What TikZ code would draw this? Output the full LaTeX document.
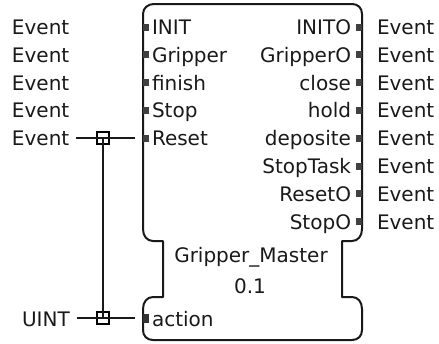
\documentclass[tikz,border=0pt]{standalone}
\usepackage{fontspec}
\setmainfont{DejaVu Sans}
\begin{document}
\begin{tikzpicture}[x=1pt,y=-1pt,
  lbl/.style={inner sep=0pt,outer sep=0pt,font=\fontsize{20}{22}\selectfont,text=black!90},
  wire/.style={line width=2pt,black!90},
  junc/.style={draw,line width=1.5pt,minimum size=12pt,inner sep=0pt},
  evmark/.style={fill=black!75,draw=none,minimum width=5.5pt,minimum height=7pt,inner sep=0pt},
  datamark/.style={fill=black!80,draw=none,minimum width=6pt,minimum height=9pt,inner sep=0pt}]
\useasboundingbox (0,0) rectangle (439,343);
% block outline
\draw[line width=2pt,black!90,line join=round]
  (154,4) -- (352,4) .. controls (358,4) and (362,8) .. (362,14)
  -- (362,229) .. controls (362,236) and (358,241) .. (352,241)
  -- (342,241) -- (342,297) -- (352,297)
  .. controls (358,297) and (362,302) .. (362,309)
  -- (362,330) .. controls (362,336) and (358,340) .. (352,340)
  -- (153,340) .. controls (147,340) and (143,336) .. (143,330)
  -- (143,309) .. controls (143,302) and (147,297) .. (153,297)
  -- (163,297) -- (163,241) -- (153,241)
  .. controls (147,241) and (143,236) .. (143,229)
  -- (143,14) .. controls (143,8) and (148,4) .. (154,4);
% left inputs
\foreach \n/\t/\i in {iINIT/INIT/0,iGripper/Gripper/1,ifinish/finish/2,iStop/Stop/3,iReset/Reset/4}{
  \pgfmathsetmacro{\yy}{27+27.8*\i}
  \node[evmark] (m\n) at (145.8,\yy) {};
  \node[lbl,anchor=base west] (\n) at (152,\yy+7.5) {\t};
  \node[lbl,anchor=base west] (e\n) at (12,\yy+7.5) {Event};
}
% right outputs
\foreach \n/\t/\i in {oINITO/INITO/0,oGripperO/GripperO/1,oclose/close/2,ohold/hold/3,odeposite/deposite/4,oStopTask/StopTask/5,oResetO/ResetO/6,oStopO/StopO/7}{
  \pgfmathsetmacro{\yy}{27+27.8*\i}
  \node[evmark] (m\n) at (359.2,\yy) {};
  \node[lbl,anchor=base east] (\n) at (351,\yy+7.5) {\t};
  \node[lbl,anchor=base west] (e\n) at (377,\yy+7.5) {Event};
}
% data input
\node[datamark] (maction) at (146,318.5) {};
\node[lbl,anchor=base west] (action) at (152,326.5) {action};
\node[lbl,anchor=base west] (uint) at (22,326) {UINT};
% type and version
\node[lbl,anchor=base] (tname) at (251,262) {Gripper\_Master};
\node[lbl,anchor=base] (ver) at (250,293) {0.1};
% connectors
\coordinate (resetin) at (135,138);
\coordinate (actionin) at (135,318);
\node[junc] (j1) at (103,138) {};
\node[junc] (j2) at (103,318) {};
\draw[wire,shorten <=7pt] (j1 -| eiReset.east) -- (resetin);
\draw[wire,shorten <=7pt] (j2 -| uint.east) -- (actionin);
\draw[wire] (j1.center) -- (j2.center);
\end{tikzpicture}
\end{document}
